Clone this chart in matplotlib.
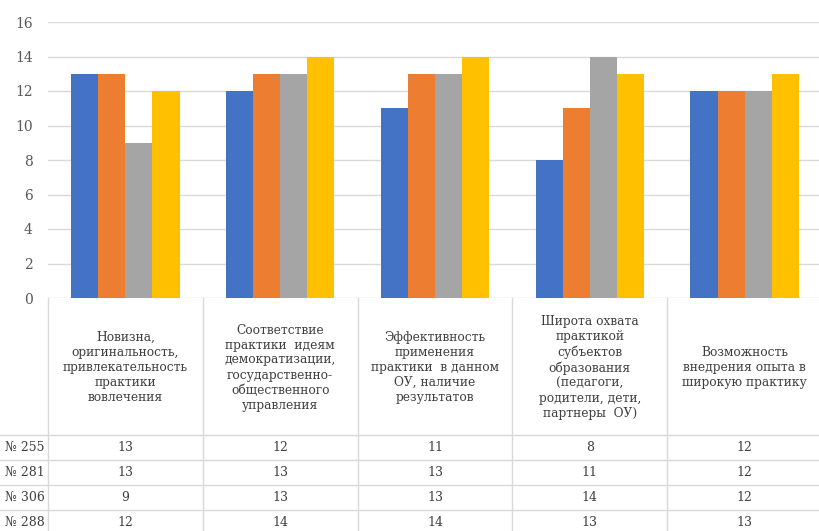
import numpy as np
import matplotlib.pyplot as plt

# criteria (table header) and series values
criteria = [
    'Новизна,\nоригинальность,\nпривлекательность\nпрактики\nвовлечения',
    'Соответствие\nпрактики  идеям\nдемократизации,\nгосударственно-\nобщественного\nуправления',
    'Эффективность\nприменения\nпрактики  в данном\nОУ, наличие\nрезультатов',
    'Широта охвата\nпрактикой\nсубъектов\nобразования\n(педагоги,\nродители, дети,\nпартнеры  ОУ)',
    'Возможность\nвнедрения опыта в\nширокую практику',
]
series = ['№ 255', '№ 281', '№ 306', '№ 288']
s255 = [13, 12, 11, 8, 12]
s281 = [13, 13, 13, 11, 12]
s306 = [9, 13, 13, 14, 12]
s288 = [12, 14, 14, 13, 13]
values = [s255, s281, s306, s288]
colors = ['#4472C4', '#ED7D31', '#A5A5A5', '#FFC000']
yticks = np.arange(0, 17, 2)

plt.rcParams['font.family'] = ['DejaVu Serif', 'Liberation Serif']
txt_col = '#404040'
line_col = '#d9d9d9'

W, H = 819, 531
fig = plt.figure(figsize=(W / 100, H / 100), dpi=100)

# chart area (pixel layout)
x0, x1 = 48, 822
ytop, ybot = 22, 298
ax = fig.add_axes([x0 / W, (H - ybot) / H, (x1 - x0) / W, (ybot - ytop) / H])
x = np.arange(len(criteria))
bw = 0.175
for i, (vals, c) in enumerate(zip(values, colors)):
    ax.bar(x + (i - 1.5) * bw, vals, bw, color=c, zorder=3)
ax.set_xlim(-0.5, len(criteria) - 0.5)
ax.set_ylim(0, 16)
ax.set_yticks(yticks)
ax.grid(axis='y', color=line_col, lw=1)
ax.set_axisbelow(True)
for s in ax.spines.values():
    s.set_visible(False)
ax.set_xticks([])
ax.tick_params(axis='y', length=0, pad=11, labelsize=10, labelcolor='#595959')

# data table below the chart
tb_top, tb_bot = 298, 540
tax = fig.add_axes([x0 / W, (H - tb_bot) / H, (x1 - x0) / W, (tb_bot - tb_top) / H])
tax.set_xlim(-0.5, len(criteria) - 0.5)
tax.set_ylim(tb_bot - tb_top, 0)
tax.axis('off')
head_h, row_h = 137, 25
left_ext = -0.5 - x0 / ((x1 - x0) / len(criteria))

for k in range(len(criteria) + 1):
    tax.plot([k - 0.5, k - 0.5], [0, tb_bot - tb_top], color=line_col, lw=1, clip_on=False)
for r in range(len(series)):
    yl = head_h + r * row_h
    tax.plot([left_ext, len(criteria) - 0.5], [yl, yl], color=line_col, lw=1, clip_on=False)

for k, lab in enumerate(criteria):
    tax.text(k, head_h / 2 + 1, lab, ha='center', va='center', fontsize=8.8,
             color=txt_col, linespacing=1.2)

for r, (name, vals) in enumerate(zip(series, values)):
    yc = head_h + r * row_h + row_h / 2
    tax.text(-0.5 - 0.02, yc, name, ha='right', va='center', fontsize=9,
             color=txt_col, clip_on=False)
    for k, v in enumerate(vals):
        tax.text(k, yc, str(v), ha='center', va='center', fontsize=9, color=txt_col)

fig.savefig('out.png', dpi=100)
